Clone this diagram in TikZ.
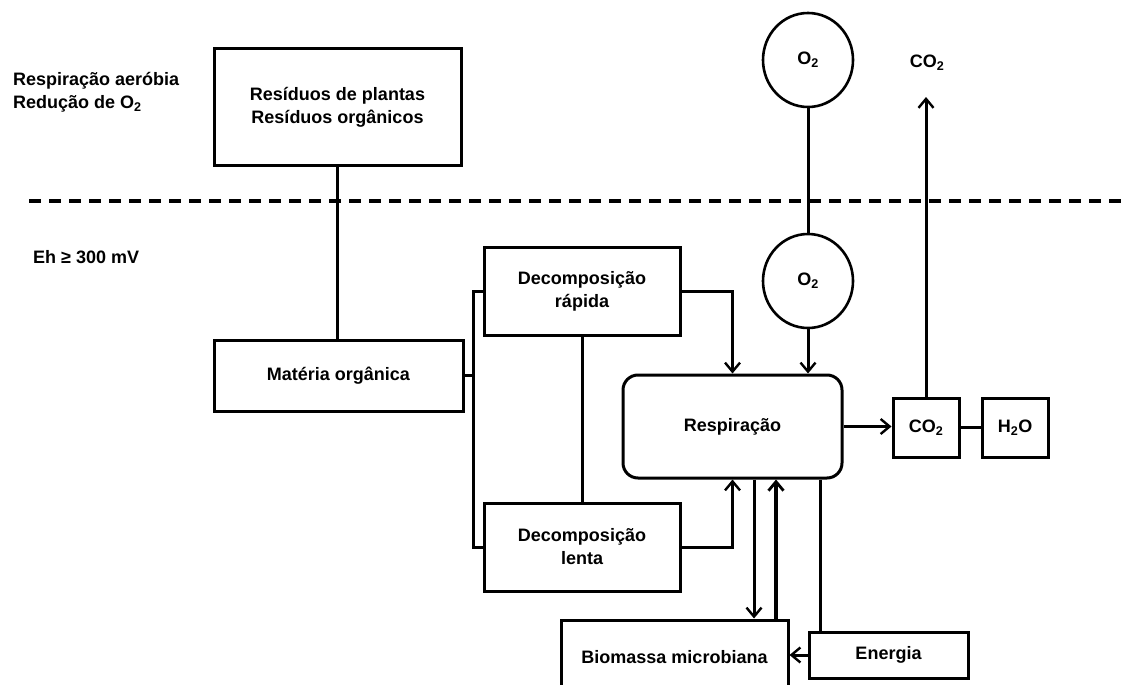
\documentclass[tikz,border=0pt]{standalone}
\usepackage{fontspec}
\setmainfont{Liberation Sans}
\usetikzlibrary{arrows.meta,shapes.geometric}
\begin{document}
\begin{tikzpicture}[x=1pt,y=-1pt,
  every node/.style={font=\fontsize{18}{23}\selectfont\bfseries, inner sep=0pt},
  box/.style={draw, line width=3pt, align=center},
  rbox/.style={box, rounded corners=15pt},
  circ/.style={draw, ellipse, line width=2.6pt, minimum width=90pt, minimum height=94pt},
  conn/.style={line width=3pt},
  arr/.style={conn, -{Straight Barb[length=9pt,width=15pt,line width=2.4pt]}},
  thickarr/.style={line width=4.2pt, -{Straight Barb[length=9pt,width=15pt,line width=2.8pt]}},
  lbl/.style={align=left, anchor=west}
]
\useasboundingbox (0,0) rectangle (1124,685);
\fill[white] (0,0) rectangle (1124,685);

% dashed boundary
\coordinate (dl) at (29,201);
\coordinate (dr) at (1124,201);
\draw[line width=4.8pt, dash pattern=on 12pt off 8pt] (dl) -- (dr);

% left labels
\node[lbl] (lab1) at (13,92) {Respiração aeróbia\\Redução de O\textsubscript{2}};
\node[lbl] (lab2) at (33,257) {Eh ≥ 300 mV};

% boxes
\node[box, minimum width=247pt, minimum height=116pt] (res) at (337.5,107) {Resíduos de plantas\\Resíduos orgânicos};
\node[box, minimum width=249pt, minimum height=71pt] (mat) at (338.5,375.5) {Matéria orgânica};
\node[box, minimum width=196pt, minimum height=88pt] (rap) at (582,291) {Decomposição\\rápida};
\node[box, minimum width=196pt, minimum height=88pt] (len) at (582,547) {Decomposição\\lenta};
\node[rbox, minimum width=219pt, minimum height=103pt] (resp) at (732.5,426.5) {Respiração};
\node[circ] (o2a) at (808,60) {O\textsubscript{2}};
\node[circ] (o2b) at (808,281) {O\textsubscript{2}};
\node[box, minimum width=66pt, minimum height=59pt] (co2b) at (926,427.5) {CO\textsubscript{2}};
\node[box, minimum width=66pt, minimum height=59pt] (h2o) at (1015,427.5) {H\textsubscript{2}O};
\node[box, minimum width=227pt, minimum height=74pt] (bio) at (674.5,657) {Biomassa microbiana};
\node[box, minimum width=159pt, minimum height=46pt] (ene) at (888.5,655) {Energia};
\node (co2t) at (927,63) {CO\textsubscript{2}};
\coordinate (co2tip) at (926,97);
\coordinate (bx) at (473,0);

% connectors
\draw[conn] (res.south) -- (res.south |- mat.north);
\draw[conn] (mat.east) -- (bx |- mat.east);
\draw[conn] (rap.west) -- (bx |- rap.west) -- (bx |- len.west) -- (len.west);
\draw[conn] (rap.south) -- (len.north);
\draw[arr] (rap.east) -| (resp.north);
\draw[arr] (len.east) -| (resp.south);
\draw[conn] (o2a.south) -- (o2b.north);
\draw[arr] (o2b.south) -- (o2b.south |- resp.north);
\draw[arr] (resp.east) -- (resp.east -| co2b.west);
\draw[conn] (co2b.east) -- (h2o.west);
\draw[arr] (co2b.north) -- (co2tip);
\draw[arr] ([xshift=21.5pt]resp.south) -- ([xshift=21.5pt]resp.south |- bio.north);
\draw[thickarr] ([xshift=43.5pt]resp.south |- bio.north) -- ([xshift=43.5pt]resp.south);
\draw[conn] ([xshift=87.5pt]resp.south) -- ([xshift=87.5pt]resp.south |- ene.north);
\draw[arr] (ene.west) -- (ene.west -| bio.east);
\end{tikzpicture}
\end{document}
